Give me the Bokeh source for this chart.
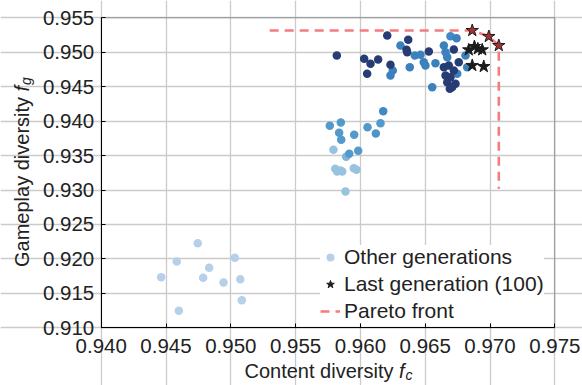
import numpy as np
from bokeh.plotting import figure
from bokeh.models import (Label, Legend, LegendItem, FixedTicker, Range1d, ColumnDataSource,
                          LinearAxis, Grid, BoxAnnotation)
from bokeh.transform import linear_cmap
from bokeh.embed import file_html
from bokeh.resources import INLINE

# ---------------- data ----------------
x_ticks = [0.940, 0.945, 0.950, 0.955, 0.960, 0.965, 0.970, 0.975]
x_tick_labels = ["0.940", "0.945", "0.950", "0.955", "0.960", "0.965", "0.970", "0.975"]
y_ticks = [0.910, 0.915, 0.920, 0.925, 0.930, 0.935, 0.940, 0.945, 0.950, 0.955]
y_tick_labels = ["0.910", "0.915", "0.920", "0.925", "0.930", "0.935", "0.940", "0.945", "0.950", "0.955"]

# other generations (x = content diversity, y = gameplay diversity, generation index)
other_x = [
    0.94745, 0.94583, 0.95031, 0.94833, 0.94463, 0.94787, 0.94944, 0.95073, 0.95085, 0.94599,
    0.96176, 0.95764, 0.95849, 0.96155, 0.96055, 0.95836, 0.95952, 0.96119, 0.95852, 0.95792,
    0.95983, 0.95914, 0.95890, 0.95806, 0.95846, 0.95821, 0.95860, 0.95949, 0.95970, 0.95885,
    0.95818, 0.96029, 0.96078, 0.96052, 0.96207, 0.96369, 0.96356, 0.96361, 0.96137, 0.96232,
    0.96528, 0.96644, 0.96721, 0.96682, 0.96721, 0.96657, 0.96695, 0.96670, 0.96734, 0.96708,
    0.96759, 0.96690,
    0.96309, 0.96250, 0.96232, 0.96381, 0.96420, 0.96464, 0.96489, 0.96502, 0.96579, 0.96554,
    0.96644, 0.96695, 0.96742, 0.96657, 0.96811, 0.96670, 0.96747, 0.96824,
]
other_y = [
    0.92228, 0.91962, 0.92016, 0.91871, 0.91735, 0.91726, 0.91658, 0.91706, 0.91401, 0.91247,
    0.94144, 0.93932, 0.93980, 0.93970, 0.93912, 0.93831, 0.93802, 0.93820, 0.93729, 0.93584,
    0.93569, 0.93526, 0.93482, 0.93308, 0.93283, 0.93269, 0.93269, 0.93317, 0.93294, 0.92979,
    0.94953, 0.94905, 0.94832, 0.94687, 0.95243, 0.95181, 0.95035, 0.95001, 0.94895, 0.94818,
    0.95011, 0.94783, 0.95040, 0.94808, 0.94735, 0.94662, 0.94638, 0.94565, 0.94542, 0.94493,
    0.94855, 0.94471,
    0.95098, 0.94735, 0.94662, 0.94783, 0.94953, 0.94963, 0.94855, 0.94808, 0.94841, 0.94493,
    0.95098, 0.95233, 0.95204, 0.95001, 0.94953, 0.94928, 0.94687, 0.94783,
]
other_gen = [
    10, 10, 10, 10, 10, 10, 10, 10, 10, 10,
    55, 45, 45, 45, 45, 45, 45, 48, 45, 30,
    45, 45, 35, 30, 30, 30, 30, 30, 30, 30,
    90, 90, 90, 90, 90, 90, 90, 90, 90, 90,
    90, 90, 90, 90, 90, 90, 90, 90, 90, 90,
    90, 90,
    65, 65, 65, 65, 65, 65, 65, 65, 65, 65,
    65, 55, 65, 65, 65, 65, 65, 65,
]

# last generation (100)
last_x = [0.96836, 0.96880, 0.96906, 0.96940, 0.96863, 0.96952]
last_y = [0.95035, 0.95083, 0.95050, 0.95035, 0.94808, 0.94793]

# Pareto-optimal individuals of last generation
front_x = [0.96863, 0.96991, 0.97068]
front_y = [0.95316, 0.95229, 0.95098]

# Pareto front line (with extensions)
pareto_x = [0.9530, 0.96863, 0.96991, 0.97068, 0.97068]
pareto_y = [0.95316, 0.95316, 0.95229, 0.95098, 0.9302]

X_LIM = (0.940, 0.975)
Y_LIM = (0.910, 0.955)

# ---------------- colours ----------------
anchors = [(0, "#c6dbef"), (10, "#b5d0e8"), (30, "#98c3df"), (45, "#5499cb"),
           (55, "#4189c2"), (65, "#3b82bd"), (80, "#2f5f9e"), (90, "#263c74"), (100, "#1f2f5e")]


def _rgb(h):
    return [int(h[i:i + 2], 16) for i in (1, 3, 5)]


ax_ = [a[0] for a in anchors]
ac = np.array([_rgb(a[1]) for a in anchors], dtype=float)
palette = []
for g in range(101):
    c = [np.interp(g, ax_, ac[:, k]) for k in range(3)]
    palette.append("#%02x%02x%02x" % tuple(int(round(v)) for v in c))

order = np.argsort(np.array(other_gen), kind="stable")
src = ColumnDataSource(dict(
    x=list(np.array(other_x)[order]),
    y=list(np.array(other_y)[order]),
    gen=list(np.array(other_gen)[order]),
))

# ---------------- layout (plot box inside the canvas) ----------------
W, H = 582, 385
BOX_L, BOX_R, BOX_T, BOX_B = 100.7, 554.3, 17.3, 327.3   # pixel edges of the axes box
kx = (X_LIM[1] - X_LIM[0]) / (BOX_R - BOX_L)
ky = (Y_LIM[1] - Y_LIM[0]) / (BOX_B - BOX_T)
x_range = Range1d(X_LIM[0] - BOX_L * kx, X_LIM[1] + (W - BOX_R) * kx)
y_range = Range1d(Y_LIM[0] - (H - BOX_B) * ky, Y_LIM[1] + BOX_T * ky)

FONT = "Liberation Sans"
TXT = "#222222"

p = figure(width=W, height=H, min_border=0, x_range=x_range, y_range=y_range,
           x_axis_location=None, y_axis_location=None,
           output_backend="svg", toolbar_location=None)
p.background_fill_color = "white"
p.border_fill_color = "white"
p.outline_line_color = None

# grids bounded to the axes box
p.add_layout(Grid(dimension=0, ticker=FixedTicker(ticks=x_ticks), bounds=Y_LIM,
                  grid_line_color="#cbcbcb", grid_line_width=1.3))
p.add_layout(Grid(dimension=1, ticker=FixedTicker(ticks=y_ticks), bounds=X_LIM,
                  grid_line_color="#cbcbcb", grid_line_width=1.3))

xaxis = LinearAxis(fixed_location=Y_LIM[0], bounds=X_LIM, ticker=FixedTicker(ticks=x_ticks),
                   major_label_overrides={t: l for t, l in zip(x_ticks, x_tick_labels)})
yaxis = LinearAxis(fixed_location=X_LIM[0], bounds=Y_LIM, ticker=FixedTicker(ticks=y_ticks),
                   major_label_overrides={t: l for t, l in zip(y_ticks, y_tick_labels)})
for axis in (xaxis, yaxis):
    axis.major_tick_in = 4
    axis.major_tick_out = 0
    axis.minor_tick_line_color = None
    axis.axis_line_color = "black"
    axis.major_tick_line_color = "black"
    axis.major_label_text_font = FONT
    axis.major_label_text_font_size = "20.5px"
    axis.major_label_text_color = TXT
xaxis.major_label_standoff = 11
yaxis.major_label_standoff = 7
p.add_layout(xaxis, "below")
p.add_layout(yaxis, "left")

r_other = p.scatter("x", "y", source=src, size=8.5, marker="circle",
                    fill_color=linear_cmap("gen", palette, 0, 100), line_color=None)
r_last = p.scatter(last_x, last_y, marker="star", size=13,
                   fill_color="#1c1c1c", line_color="#1c1c1c")
r_line = p.line(pareto_x, pareto_y, line_color="#f47c7c", line_width=2.6, line_dash="9 6")
p.scatter(front_x, front_y, marker="star", size=13,
          fill_color="#a83232", line_color="#1c1c1c", line_width=1)

# axes box outline
p.add_layout(BoxAnnotation(left=X_LIM[0], right=X_LIM[1], bottom=Y_LIM[0], top=Y_LIM[1],
                           fill_color=None, fill_alpha=0, line_color="black", line_width=1))

legend = Legend(
    items=[
        LegendItem(label="Other generations", renderers=[r_other], index=0),
        LegendItem(label="Last generation (100)", renderers=[r_last]),
        LegendItem(label="Pareto front", renderers=[r_line]),
    ],
    location=(320, 62), padding=3, spacing=3, label_height=22, glyph_height=22,
    glyph_width=20, label_standoff=4, margin=0,
    label_text_font=FONT, label_text_font_size="21px", label_text_color=TXT,
    background_fill_color="white", background_fill_alpha=1.0, border_line_color=None,
)
p.add_layout(legend)

# axis titles (with italic symbols and subscripts); screen units measured from the canvas bottom-left
common = dict(x_units="screen", y_units="screen", text_font=FONT, text_color=TXT,
              text_baseline="alphabetic", text_align="left")
p.add_layout(Label(x=244, y=15, text="Content diversity", text_font_size="20px", **common))
p.add_layout(Label(x=398.5, y=15, text="f", text_font_size="20px", text_font_style="italic", **common))
p.add_layout(Label(x=405, y=11, text="c", text_font_size="14px", text_font_style="italic", **common))

p.add_layout(Label(x=21, y=118.5, angle=np.pi / 2, text="Gameplay diversity",
                   text_font_size="20px", **common))
p.add_layout(Label(x=21, y=294, angle=np.pi / 2, text="f",
                   text_font_size="20px", text_font_style="italic", **common))
p.add_layout(Label(x=25, y=300.5, angle=np.pi / 2, text="g",
                   text_font_size="14px", text_font_style="italic", **common))

open("out.html", "w").write(file_html(p, INLINE))
